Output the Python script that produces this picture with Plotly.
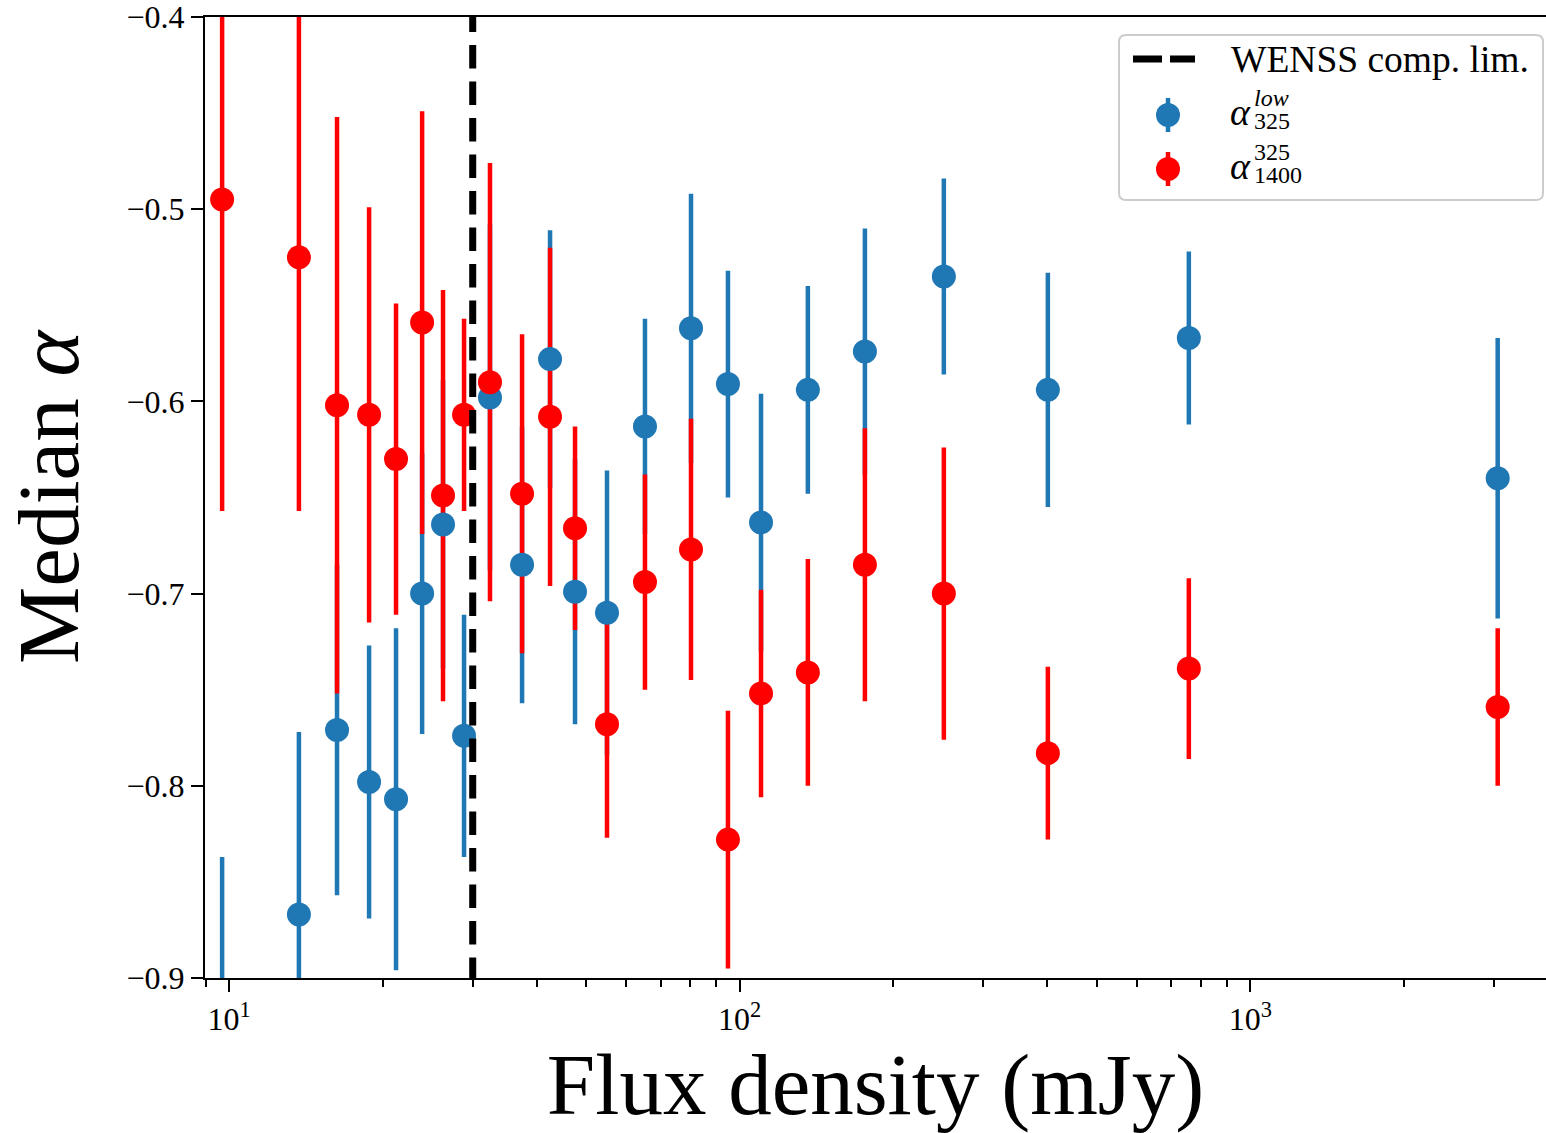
import numpy as np
import plotly.graph_objects as go

# Binned flux densities (mJy) and median spectral indices per bin
flux = [9.69, 13.7, 16.27, 18.80, 21.23, 23.88, 26.24, 28.85, 32.43, 37.48, 42.52,
        47.59, 54.97, 65.24, 80.29, 94.85, 110.1, 136.0, 175.9, 251.1, 401.4, 758.0, 3052.0]

alpha_low_325 = [-0.930, -0.867, -0.771, -0.798, -0.807, -0.700, -0.664, -0.774, -0.598,
                 -0.685, -0.578, -0.699, -0.710, -0.613, -0.562, -0.591, -0.663, -0.594,
                 -0.574, -0.535, -0.594, -0.567, -0.640]
alpha_low_325_err = [0.093, 0.095, 0.086, 0.071, 0.089, 0.073, 0.075, 0.063, 0.090, 0.072,
                     0.067, 0.069, 0.074, 0.056, 0.070, 0.059, 0.067, 0.054, 0.064, 0.051,
                     0.061, 0.045, 0.073]

alpha_325_1400 = [-0.495, -0.525, -0.602, -0.607, -0.630, -0.559, -0.649, -0.607, -0.590,
                  -0.648, -0.608, -0.666, -0.768, -0.694, -0.677, -0.828, -0.752, -0.741,
                  -0.685, -0.700, -0.783, -0.739, -0.759]
alpha_325_1400_err = [0.162, 0.132, 0.150, 0.108, 0.081, 0.110, 0.107, 0.050, 0.114, 0.083,
                      0.088, 0.053, 0.059, 0.056, 0.068, 0.067, 0.054, 0.059, 0.071, 0.076,
                      0.045, 0.047, 0.041]

wenss_limit = 30.0  # mJy

y_ticks = [-0.9, -0.8, -0.7, -0.6, -0.5, -0.4]
x_major = [10, 100, 1000]
x_major_text = ["10<sup>1</sup>", "10<sup>2</sup>", "10<sup>3</sup>"]

BLUE = "#1f77b4"
RED = "#ff0000"
FONT = "Liberation Serif"

# figure geometry (pixels)
W, H = 1546, 1133
ML, MR, MT, MB = 205, 0, 17, 155
PW, PH = W - ML - MR, H - MT - MB


def px(x):
    return (x - ML) / PW


def py(y):
    return (H - MB - y) / PH


fig = go.Figure()

# error bars first (both series), then the markers on top
for yv, err, col in [(alpha_low_325, alpha_low_325_err, BLUE),
                     (alpha_325_1400, alpha_325_1400_err, RED)]:
    fig.add_trace(go.Scatter(
        x=flux, y=yv, mode="markers",
        marker=dict(size=1, color="rgba(0,0,0,0)"),
        error_y=dict(type="data", array=err, visible=True, width=0,
                     thickness=4.5, color=col),
        showlegend=False, hoverinfo="skip"))

for yv, col in [(alpha_low_325, BLUE), (alpha_325_1400, RED)]:
    fig.add_trace(go.Scatter(
        x=flux, y=yv, mode="markers",
        marker=dict(size=24, color=col, line=dict(width=0)),
        showlegend=False))

# WENSS completeness limit (dashes laid out from the top of the axes)
vline_dash = ",".join(["15px", "13px"] + ["23.5px", "13px"] * 27)
fig.add_shape(type="line", xref="x", yref="paper", x0=wenss_limit, x1=wenss_limit,
              y0=1, y1=0, line=dict(color="black", width=7, dash=vline_dash),
              layer="above")

# ---- legend box ----
def rounded_rect(x0, y0, x1, y1, r):
    # pixel coordinates -> paper path with rounded corners
    rx, ry = r / PW, r / PH
    a0, a1 = px(x0), px(x1)
    b0, b1 = py(y1), py(y0)  # bottom, top in paper
    return (f"M {a0+rx},{b0} L {a1-rx},{b0} Q {a1},{b0} {a1},{b0+ry} "
            f"L {a1},{b1-ry} Q {a1},{b1} {a1-rx},{b1} L {a0+rx},{b1} "
            f"Q {a0},{b1} {a0},{b1-ry} L {a0},{b0+ry} Q {a0},{b0} {a0+rx},{b0} Z")


fig.add_shape(type="path", xref="paper", yref="paper",
              path=rounded_rect(1119, 35, 1543, 200, 7),
              line=dict(color="#cccccc", width=2),
              fillcolor="rgba(255,255,255,0.8)", layer="above")

fig.add_shape(type="line", xref="paper", yref="paper",
              x0=px(1133), x1=px(1195), y0=py(59), y1=py(59),
              line=dict(color="black", width=7, dash="29px,8px"), layer="above")

for cy, col in [(115, BLUE), (169, RED)]:
    fig.add_shape(type="line", xref="paper", yref="paper",
                  xsizemode="pixel", ysizemode="pixel",
                  xanchor=px(1168), yanchor=py(cy),
                  x0=0, x1=0, y0=-17, y1=17,
                  line=dict(color=col, width=4.5), layer="above")
    fig.add_shape(type="circle", xref="paper", yref="paper",
                  xsizemode="pixel", ysizemode="pixel",
                  xanchor=px(1168), yanchor=py(cy),
                  x0=-12, x1=12, y0=-12, y1=12,
                  line=dict(width=0), fillcolor=col, layer="above")


def label(text, x, y, size, xanchor="left"):
    fig.add_annotation(text=text, xref="paper", yref="paper", x=px(x), y=py(y),
                       xanchor=xanchor, yanchor="middle", showarrow=False,
                       font=dict(family=FONT, size=size, color="black"))


label("WENSS comp. lim.", 1229, 60, 37.5)
label("<i>α</i>", 1228, 112, 38)
label("<i>low</i>", 1252, 98, 24)
label("325", 1252, 121, 24)
label("<i>α</i>", 1228, 166, 38)
label("325", 1252, 152, 24)
label("1400", 1252, 175, 24)

fig.update_layout(
    width=W, height=H,
    margin=dict(l=ML, r=MR, t=MT, b=MB),
    paper_bgcolor="white", plot_bgcolor="white",
    font=dict(family=FONT, color="black"),
    showlegend=False,
)

fig.update_xaxes(
    type="log", range=[np.log10(8.97), np.log10(3795)],
    showgrid=False, zeroline=False,
    showline=True, linecolor="black", linewidth=2, mirror=True,
    ticks="outside", ticklen=12, tickwidth=2, tickcolor="black",
    tickvals=x_major, ticktext=x_major_text,
    tickfont=dict(family=FONT, size=32, color="black"),
    ticklabeloverflow="allow",
    minor=dict(ticks="outside", ticklen=7, tickwidth=1.5, tickcolor="black",
               tickvals=[m * 10 ** k for k in range(0, 4) for m in range(2, 10)],
               showgrid=False),
    title=dict(text="Flux density (mJy)", font=dict(family=FONT, size=87), standoff=6),
    automargin=False,
)

fig.update_yaxes(
    range=[-0.9, -0.4],
    showgrid=False, zeroline=False,
    showline=True, linecolor="black", linewidth=2, mirror=False,
    ticks="outside", ticklen=12, tickwidth=2, tickcolor="black",
    tickvals=y_ticks, tickformat=".1f",
    tickfont=dict(family=FONT, size=32, color="black"),
    ticklabeloverflow="allow",
    title=dict(text="Median <i>α</i>", font=dict(family=FONT, size=87), standoff=20),
    automargin=False,
)

fig.write_html("out.html")
